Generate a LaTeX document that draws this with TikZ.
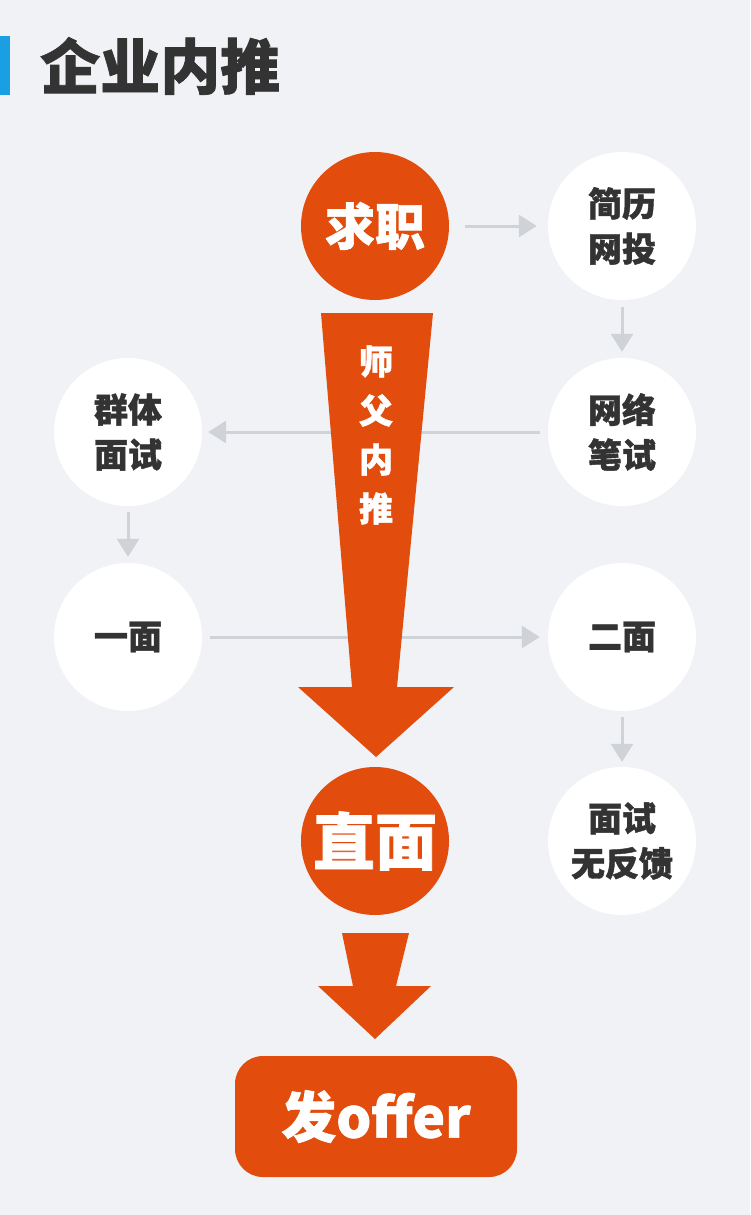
\documentclass[tikz,border=0pt]{standalone}
\usepackage{fontspec}
\newfontfamily\cjk{Noto Sans CJK SC}[BoldFeatures={FakeBold=1.2}]
\usetikzlibrary{arrows.meta}
\definecolor{bg}{HTML}{F0F2F5}
\definecolor{org}{HTML}{E24C0C}
\definecolor{gry}{HTML}{CFD2D6}
\definecolor{dark}{HTML}{333333}
\definecolor{blu}{HTML}{1A9FE3}
\tikzset{
  conn/.style={draw=gry,line width=3pt,-{Triangle[length=18pt,width=22pt]}},
  wcirc/.style={circle,fill=white,minimum size=148pt,inner sep=0pt,align=center,
    text=dark,font=\cjk\bfseries\fontsize{34}{45}\selectfont},
  ocirc/.style={circle,fill=org,minimum size=148pt,inner sep=0pt,align=center,text=white},
}
\begin{document}
\begin{tikzpicture}[x=1pt,y=-1pt]
\fill[bg] (0,0) rectangle (750,1215);
\useasboundingbox (0,0) rectangle (750,1215);
% title
\fill[blu] (0,36) rectangle (10,95);
\node[anchor=west,text=dark,font=\cjk\bfseries\fontsize{60}{60}\selectfont,inner sep=0pt] (title) at (40,66) {企业内推};
% nodes
\node[ocirc,font=\cjk\bfseries\fontsize{50}{50}\selectfont] (qz) at (375,226) {求职};
\node[wcirc] (jl) at (622,226) {简历\\网投};
\node[wcirc] (bs) at (622,432) {网络\\笔试};
\node[wcirc] (qt) at (128,432) {群体\\面试};
\node[wcirc] (ym) at (128,637) {一面};
\node[wcirc] (em) at (622,637) {二面};
\node[wcirc] (wf) at (622,841) {面试\\无反馈};
\node[ocirc,font=\cjk\bfseries\fontsize{62}{62}\selectfont] (zm) at (375,841) {直面};
\node[fill=org,rounded corners=28pt,minimum width=282pt,minimum height=121pt,inner sep=0pt,
  text=white,font=\cjk\bfseries\fontsize{55}{55}\selectfont] (of) at (376,1116.5) {发offer};
% connectors
\draw[conn,shorten <=16pt,shorten >=11pt] (qz.east) -- (jl.west);
\draw[conn,shorten <=7pt,shorten >=6pt] (jl.south) -- (bs.north);
\draw[conn,shorten <=8pt,shorten >=6pt] (bs.west) -- (qt.east);
\draw[conn,shorten <=6pt,shorten >=6pt] (qt.south) -- (ym.north);
\draw[conn,shorten <=8pt,shorten >=8pt] (ym.east) -- (em.west);
\draw[conn,shorten <=6pt,shorten >=5pt] (em.south) -- (wf.north);
% big arrow
\fill[org] (321,313) -- (433,313) -- (397,687) -- (454,687) -- (376,757) -- (298,687) -- (352,687) -- cycle;
\node[text=white,align=center,font=\cjk\bfseries\fontsize{34}{49}\selectfont,inner sep=0pt] (sf) at (376,435) {师\\父\\内\\推};
% small arrow
\fill[org] (342,933) -- (409,933) -- (396,986) -- (431,986) -- (375,1039) -- (318,986) -- (353,986) -- cycle;
\end{tikzpicture}
\end{document}
